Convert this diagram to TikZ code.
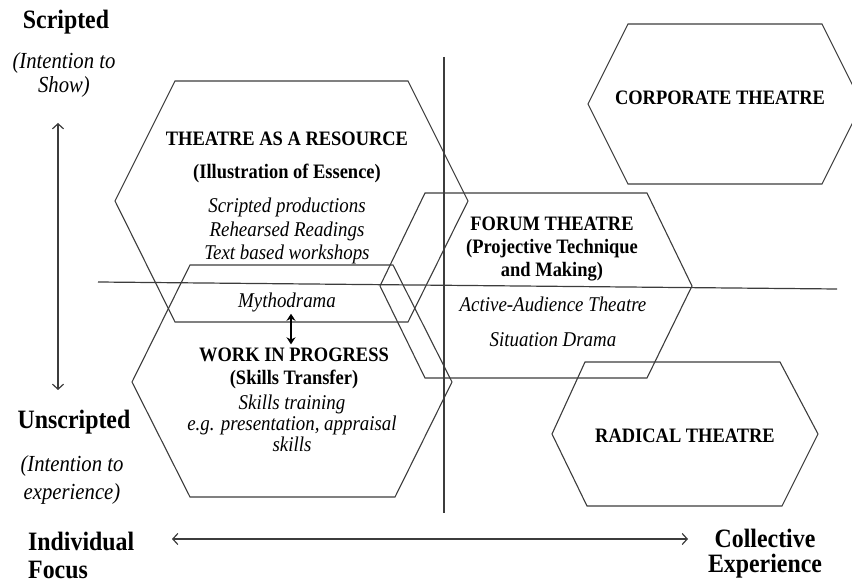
\documentclass[tikz,border=0pt]{standalone}
\usepackage{fontspec}
\setmainfont{Liberation Serif}[FakeStretch=0.9]
\usetikzlibrary{arrows.meta,calc}
\definecolor{edgegray}{HTML}{3C3C3C}
\begin{document}
\begin{tikzpicture}[x=1pt,y=-1pt,>={Straight Barb[length=5pt,width=11pt]},
		hexa/.style={draw=edgegray,line width=1.1pt},
		axisline/.style={draw=edgegray,line width=1.2pt},
		hexlab/.style={align=center,inner sep=0pt,font=\fontsize{20.5}{23}\selectfont\bfseries},
		hexex/.style={align=center,inner sep=0pt,font=\fontsize{21}{23.5}\selectfont\itshape},
		axislab/.style={align=center,inner sep=0pt,font=\fontsize{26.5}{28}\selectfont\bfseries},
		axisex/.style={align=center,inner sep=0pt,font=\fontsize{23}{24}\selectfont\itshape}]
		\clip (0,0) rectangle (852,585);
		% quadrant lines
		\draw[axisline] (444,57)--(444,513);
		\draw[axisline] (98,282)--(837,289);
		% hexagons
		\draw[hexa] (175,81)--(408,81)--(468,201)--(408,322)--(175,322)--(115,201)--cycle;
		\draw[hexa] (190,265)--(393,265)--(452,382)--(395,497)--(190,497)--(132,382)--cycle;
		\draw[hexa] (425,193)--(647,193)--(692,286)--(647,378)--(425,378)--(380,286)--cycle;
		\draw[hexa] (628,24)--(822,24)--(862,104)--(822,184)--(628,184)--(588,104)--cycle;
		\draw[hexa] (585,362)--(780,362)--(818,434)--(782,506)--(587,506)--(552,434)--cycle;
		% hexagon texts
		\node[hexlab] (resT) at (287,139) {THEATRE AS A RESOURCE};
		\node[hexlab] (resS) at (287,173) {(Illustration of Essence)};
		\node[hexex] (resEx) at (287,231) {Scripted productions\\Rehearsed Readings\\Text based workshops};
		\node[hexex] (myth) at (287,302) {Mythodrama};
		\node[hexlab] (wipT) at (294,368) {WORK IN PROGRESS\\(Skills Transfer)};
		\node[hexex,font=\fontsize{21}{21}\selectfont\itshape] (wipEx) at (292,423) {Skills training\\e.g. presentation, appraisal\\skills};
		\node[hexlab] (forT) at (552,249) {FORUM THEATRE\\(Projective Technique\\and Making)};
		\node[hexex,font=\fontsize{21}{35}\selectfont\itshape] (forEx) at (553,322) {Active-Audience Theatre\\Situation Drama};
		\node[hexlab] (corp) at (720,98) {CORPORATE THEATRE};
		\node[hexlab] (radi) at (685,436) {RADICAL THEATRE};
		\draw[line width=1.6pt,{Stealth[length=7pt,width=9pt]}-{Stealth[length=7pt,width=9pt]}] (myth.south -| 291,0) ++(0,2) coordinate (mythA) -- ($(wipT.north -| 291,0)+(0,-3)$) coordinate (mythB);
		% axis labels
		\node[axislab] (scr) at (66,22) {Scripted};
		\node[axisex] (scrEx) at (64,75) {(Intention to\\Show)};
		\node[axislab] (unscr) at (74,422) {Unscripted};
		\node[axisex,font=\fontsize{23}{28}\selectfont\itshape] (unscrEx) at (72,480) {(Intention to\\experience)};
		\node[axislab,align=left,anchor=west] (indiv) at (28,555) {Individual\\Focus};
		\node[axislab,font=\fontsize{26.5}{25}\selectfont\bfseries] (coll) at (765,554) {Collective\\Experience};
		% axis arrows
		\coordinate (vTop) at (58,123);
		\coordinate (vBot) at (58,390);
		\coordinate (hLeft) at (172,539);
		\coordinate (hRight) at (688,539);
		\draw[axisline,<->] (vTop)--(vBot);
		\draw[axisline,<->] (hLeft)--(hRight);
	\end{tikzpicture}
\end{document}
